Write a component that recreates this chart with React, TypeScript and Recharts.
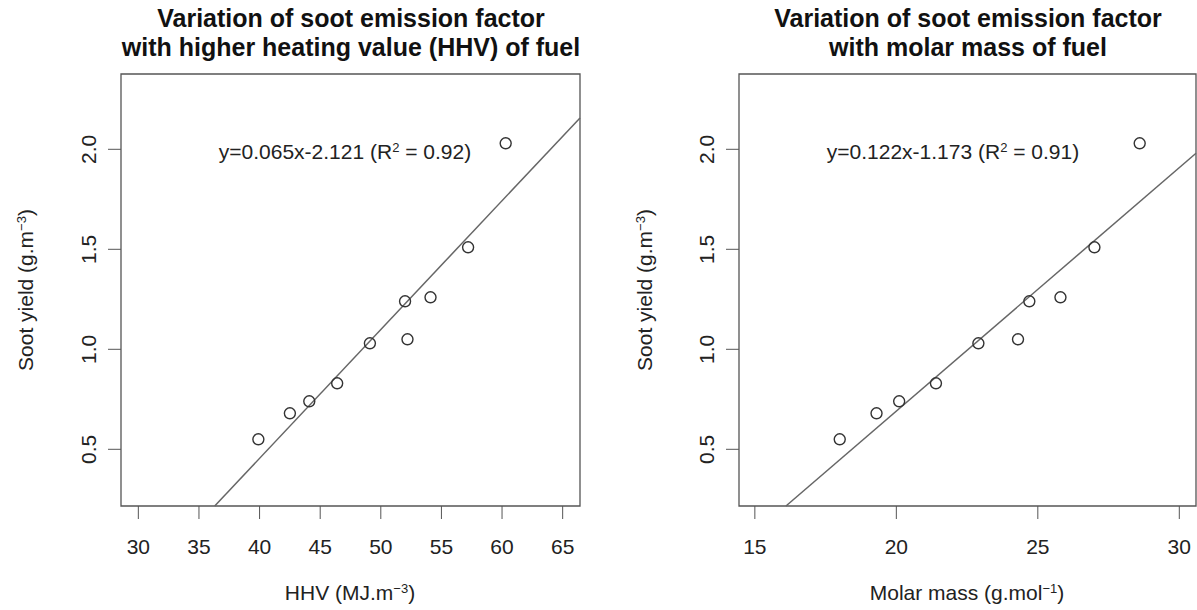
import React from "react";
import {
  ScatterChart,
  Scatter,
  XAxis,
  YAxis,
  ReferenceLine,
  ReferenceArea,
} from "recharts";

// values
const sootYield = [0.55, 0.68, 0.74, 0.83, 1.03, 1.05, 1.24, 1.26, 1.51, 2.03];
const hhvValues = [39.9, 42.5, 44.1, 46.4, 49.1, 52.2, 52.0, 54.1, 57.2, 60.3];
const molarValues = [18.0, 19.3, 20.1, 21.4, 22.9, 24.3, 24.7, 25.8, 27.0, 28.6];

const hhvTicks = [30, 35, 40, 45, 50, 55, 60, 65];
const molarTicks = [15, 20, 25, 30];
const yTicks = [0.5, 1.0, 1.5, 2.0];

// fitted line end points (where it leaves the plot box)
const hhvFitX = [36.3, 66.43];
const hhvFitY = [0.2165, 2.157];
const molarFitX = [16.1, 30.59];
const molarFitY = [0.2165, 1.98];

const yDomain: [number, number] = [0.2165, 2.3765];
const hhvDomain: [number, number] = [28.57, 66.43];
const molarDomain: [number, number] = [14.44, 30.59];

const FONT = "'Liberation Sans', Arial, Helvetica, sans-serif";
const INK = "#222";
const AXIS = "#555";

const YTick = (props: any) => {
  const { x, y, payload } = props;
  const bx = x - 10;
  return (
    <text
      transform={`translate(${bx},${y}) rotate(-90)`}
      textAnchor="middle"
      fontSize={21}
      fontFamily={FONT}
      fill={INK}
    >
      {payload.value.toFixed(1)}
    </text>
  );
};

const Ring = (props: any) => (
  <circle cx={props.cx} cy={props.cy} r={5.5} fill="none" stroke="#333" strokeWidth={1.4} />
);

interface PanelProps {
  left: number;
  width: number;
  marginLeft: number;
  marginRight: number;
  xs: number[];
  xDomain: [number, number];
  xTicks: number[];
  fitX: number[];
  fitY: number[];
}

const Panel: React.FC<PanelProps> = ({
  left,
  width,
  marginLeft,
  marginRight,
  xs,
  xDomain,
  xTicks,
  fitX,
  fitY,
}) => {
  const points = xs.map((x, i) => ({ x, y: sootYield[i] }));
  return (
    <div style={{ position: "absolute", left, top: 0 }}>
      <ScatterChart
        width={width}
        height={610}
        margin={{ top: 74, right: marginRight, bottom: 74, left: marginLeft }}
        style={{ overflow: "visible" }}
      >
        <XAxis
          type="number"
          dataKey="x"
          domain={xDomain}
          ticks={xTicks}
          allowDataOverflow
          axisLine={false}
          tickSize={13}
          tickMargin={20}
          tickLine={{ stroke: AXIS }}
          tick={{ fontSize: 21, fontFamily: FONT, fill: INK }}
          height={30}
        />
        <YAxis
          type="number"
          dataKey="y"
          domain={yDomain}
          ticks={yTicks}
          allowDataOverflow
          axisLine={false}
          tickSize={13}
          tickMargin={2}
          tickLine={{ stroke: AXIS }}
          tick={<YTick />}
          width={60}
        />
        <ReferenceArea
          x1={xDomain[0]}
          x2={xDomain[1]}
          y1={yDomain[0]}
          y2={yDomain[1]}
          fill="none"
          stroke={AXIS}
          strokeWidth={1.3}
          ifOverflow="visible"
        />
        <ReferenceLine
          segment={[
            { x: fitX[0], y: fitY[0] },
            { x: fitX[1], y: fitY[1] },
          ]}
          stroke="#666"
          strokeWidth={1.5}
          ifOverflow="visible"
        />
        <Scatter data={points} shape={<Ring />} isAnimationActive={false} />
      </ScatterChart>
    </div>
  );
};

const abs = (cx: number, cy: number, extra: React.CSSProperties = {}): React.CSSProperties => ({
  position: "absolute",
  left: cx,
  top: cy,
  transform: "translate(-50%, -50%)",
  whiteSpace: "nowrap",
  fontFamily: FONT,
  color: INK,
  fontSize: 21,
  ...extra,
});

const sup: React.CSSProperties = { fontSize: 13, verticalAlign: "0.55em", lineHeight: 0 };

const titleStyle: React.CSSProperties = {
  fontSize: 25,
  fontWeight: 700,
  lineHeight: "29px",
  textAlign: "center",
  color: "#111",
};

export default function App() {
  return (
    <div
      style={{
        position: "absolute",
        left: 0,
        top: 0,
        width: 1197,
        height: 610,
        background: "#fff",
        overflow: "hidden",
        fontFamily: FONT,
      }}
    >
      <Panel
        left={0}
        width={600}
        marginLeft={61}
        marginRight={20}
        xs={hhvValues}
        xDomain={hhvDomain}
        xTicks={hhvTicks}
        fitX={hhvFitX}
        fitY={hhvFitY}
      />
      <Panel
        left={600}
        width={597}
        marginLeft={79}
        marginRight={1}
        xs={molarValues}
        xDomain={molarDomain}
        xTicks={molarTicks}
        fitX={molarFitX}
        fitY={molarFitY}
      />

      {/* titles */}
      <div style={abs(351, 33, titleStyle)}>
        Variation of soot emission factor
        <br />
        with higher heating value (HHV) of fuel
      </div>
      <div style={abs(968, 33, titleStyle)}>
        Variation of soot emission factor
        <br />
        with molar mass of fuel
      </div>

      {/* regression equations */}
      <div style={abs(345, 152)}>
        y=0.065x-2.121 (R<span style={sup}>2</span> = 0.92)
      </div>
      <div style={abs(953, 152)}>
        y=0.122x-1.173 (R<span style={sup}>2</span> = 0.91)
      </div>

      {/* axis titles */}
      <div style={abs(350, 593)}>
        HHV (MJ.m<span style={sup}>−3</span>)
      </div>
      <div style={abs(967, 593)}>
        Molar mass (g.mol<span style={sup}>−1</span>)
      </div>
      <div style={abs(26, 290, { transform: "translate(-50%, -50%) rotate(-90deg)" })}>
        Soot yield (g.m<span style={sup}>−3</span>)
      </div>
      <div style={abs(645, 290, { transform: "translate(-50%, -50%) rotate(-90deg)" })}>
        Soot yield (g.m<span style={sup}>−3</span>)
      </div>
    </div>
  );
}
